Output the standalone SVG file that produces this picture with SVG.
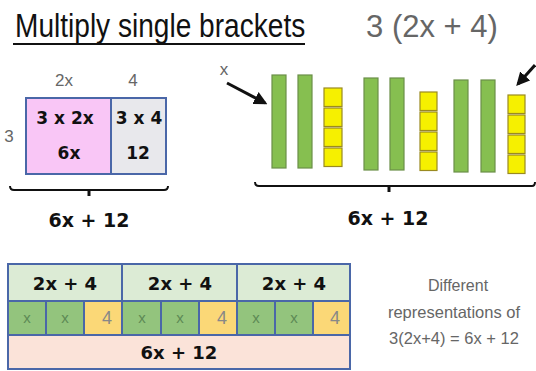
<svg xmlns="http://www.w3.org/2000/svg" width="536" height="371" viewBox="0 0 536 371">
<defs>
<style>
.hand{font-family:"DejaVu Sans","Liberation Sans",sans-serif;font-weight:bold;fill:#111;text-anchor:middle}
.thin{font-family:"Liberation Sans",sans-serif;fill:#666;text-anchor:middle}
.grid{stroke:#4a67a8;stroke-width:2}
.bar{fill:#86bf50;stroke:#6b8f48;stroke-width:1.2}
.unit{fill:#f6f000;stroke:#9a8a20;stroke-width:1.2}
.brace{fill:none;stroke:#111;stroke-width:2}
.xc{font-family:"Liberation Sans",sans-serif;fill:#5d8a55;font-size:15px;text-anchor:middle}
.fc{font-family:"Liberation Sans",sans-serif;fill:#888;font-size:18px;text-anchor:middle}
</style>
<marker id="ah" viewBox="0 0 10 10" refX="8" refY="5" markerWidth="4.5" markerHeight="4.5" orient="auto"><path d="M0,0 L10,5 L0,10 Z" fill="#111"/></marker>
</defs>
<rect width="536" height="371" fill="#fff"/>

<g id="title">
<g transform="translate(15,37) scale(0.826,1)">
<text x="0" y="0" font-family="Liberation Sans,sans-serif" font-size="34" fill="#111">Multiply single brackets</text>
</g>
<line x1="13" y1="44" x2="305" y2="44" stroke="#111" stroke-width="2"/>
<text x="432" y="37" class="thin" font-size="31" fill="#555">3 (2x + 4)</text>
</g>

<g id="area-model">
<rect x="26" y="98" width="85" height="76" fill="#f9c6f6" class="grid"/>
<rect x="111" y="98" width="55" height="76" fill="#e8e8ec" class="grid"/>
<text x="64" y="86" class="thin" font-size="17" fill="#777">2x</text>
<text x="133" y="86" class="thin" font-size="17" fill="#a89a40">4</text>
<text x="9" y="142" class="thin" font-size="17" fill="#888">3</text>
<text x="65" y="124" class="hand" font-size="17">3 x 2x</text>
<text x="69" y="159" class="hand" font-size="17">6x</text>
<text x="139" y="124" class="hand" font-size="17">3 x 4</text>
<text x="138" y="159" class="hand" font-size="17">12</text>
<path class="brace" d="M10,186 Q10,190 14,190 L164,190 Q168,190 168,186"/>
<line x1="89" y1="190" x2="89" y2="196" stroke="#111" stroke-width="3"/>
<text x="89" y="227" class="hand" font-size="19">6x + 12</text>
</g>

<g id="algebra-tiles">
<rect class="bar" x="272" y="75" width="14" height="93"/>
<rect class="bar" x="298" y="75" width="14" height="93"/>
<rect class="unit" x="324" y="88" width="18" height="18.5"/>
<rect class="unit" x="324" y="108" width="18" height="18.5"/>
<rect class="unit" x="324" y="128" width="18" height="18.5"/>
<rect class="unit" x="324" y="148" width="18" height="18.5"/>
<rect class="bar" x="364" y="78" width="14" height="92"/>
<rect class="bar" x="390" y="78" width="14" height="92"/>
<rect class="unit" x="420" y="92" width="17" height="18.5"/>
<rect class="unit" x="420" y="112" width="17" height="18.5"/>
<rect class="unit" x="420" y="132" width="17" height="18.5"/>
<rect class="unit" x="420" y="152" width="17" height="18.5"/>
<rect class="bar" x="454" y="80" width="14" height="92"/>
<rect class="bar" x="481" y="80" width="14" height="92"/>
<rect class="unit" x="508" y="95" width="17" height="18.5"/>
<rect class="unit" x="508" y="115" width="17" height="18.5"/>
<rect class="unit" x="508" y="135" width="17" height="18.5"/>
<rect class="unit" x="508" y="155" width="17" height="18.5"/>
<text x="224" y="75" class="thin" font-size="17" fill="#777">x</text>
<path class="brace" d="M255,182 Q255,186 259,186 L532,186 Q535,186 535,182"/>
<line x1="389" y1="186" x2="389" y2="192" stroke="#111" stroke-width="3"/>
<text x="388" y="225" class="hand" font-size="19">6x + 12</text>
</g>

<g id="connectors">
<line x1="227" y1="83" x2="265" y2="103" stroke="#111" stroke-width="3" marker-end="url(#ah)"/>
<line x1="535" y1="65" x2="518" y2="84" stroke="#111" stroke-width="3" marker-end="url(#ah)"/>
</g>

<g id="bar-model">
<rect x="8" y="264" width="342" height="37" fill="#dcebd5"/>
<rect x="8" y="301" width="342" height="34" fill="#93c47d"/>
<rect x="84" y="301" width="38" height="34" fill="#fbd877"/>
<rect x="199" y="301" width="38" height="34" fill="#fbd877"/>
<rect x="313" y="301" width="37" height="34" fill="#fbd877"/>
<rect x="8" y="335" width="342" height="34" fill="#fbe3d9"/>
<g class="grid" fill="none">
<rect x="8" y="264" width="342" height="105"/>
<line x1="8" y1="301" x2="350" y2="301"/>
<line x1="8" y1="335" x2="350" y2="335"/>
<line x1="122" y1="264" x2="122" y2="335"/>
<line x1="237" y1="264" x2="237" y2="335"/>
<line x1="46" y1="301" x2="46" y2="335"/>
<line x1="84" y1="301" x2="84" y2="335"/>
<line x1="161" y1="301" x2="161" y2="335"/>
<line x1="199" y1="301" x2="199" y2="335"/>
<line x1="275" y1="301" x2="275" y2="335"/>
<line x1="313" y1="301" x2="313" y2="335"/>
</g>
<text x="65" y="290" class="hand" font-size="18">2x + 4</text>
<text x="180" y="290" class="hand" font-size="18">2x + 4</text>
<text x="294" y="290" class="hand" font-size="18">2x + 4</text>
<text x="27" y="323" class="xc">x</text>
<text x="65" y="323" class="xc">x</text>
<text x="107" y="324" class="fc">4</text>
<text x="142" y="323" class="xc">x</text>
<text x="180" y="323" class="xc">x</text>
<text x="222" y="324" class="fc">4</text>
<text x="256" y="323" class="xc">x</text>
<text x="294" y="323" class="xc">x</text>
<text x="335" y="324" class="fc">4</text>
<text x="179" y="359" class="hand" font-size="18">6x + 12</text>
</g>

<g id="caption">
<text x="458" y="291" class="thin" font-size="16">Different</text>
<text x="454" y="318" class="thin" font-size="16.5">representations of</text>
<text x="454" y="344" class="thin" font-size="16.5">3(2x+4) = 6x + 12</text>
</g>
</svg>
